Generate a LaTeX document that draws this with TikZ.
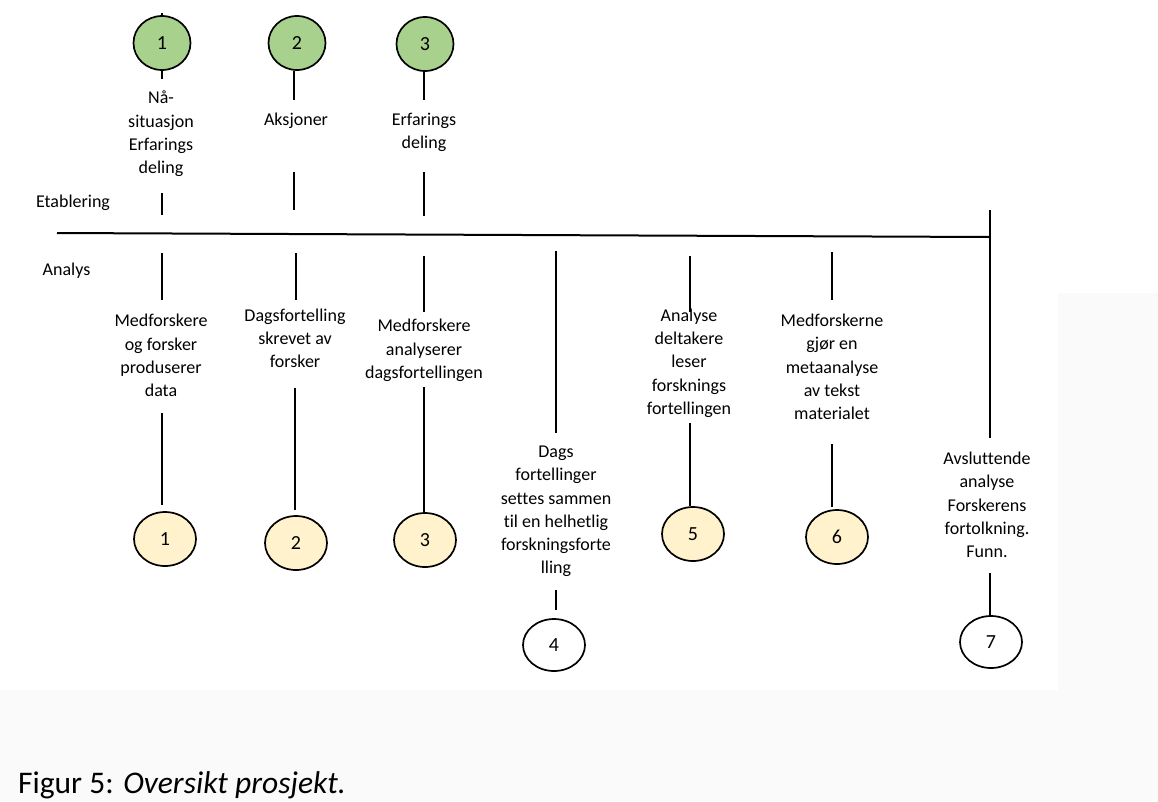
\documentclass[tikz,border=0pt]{standalone}
\usepackage{fontspec}
\setmainfont{Carlito}[Ligatures=NoCommon]
\usetikzlibrary{shapes.geometric}
\definecolor{stagegreen}{HTML}{A9D18E}
\definecolor{stageyellow}{HTML}{FFF2CC}
\definecolor{pagegrey}{HTML}{FAFAFA}
\begin{document}
\begin{tikzpicture}[x=1pt,y=-1pt,
  stage/.style={ellipse, draw=black, line width=1.7pt, inner sep=0pt,
    font=\fontsize{20}{22}\selectfont},
  est/.style={stage, fill=stagegreen, minimum width=57pt, minimum height=54pt},
  ana/.style={stage, fill=stageyellow, minimum width=62pt, minimum height=54pt},
  fin/.style={stage, fill=white, minimum width=62pt, minimum height=52pt},
  lbl/.style={align=center, inner sep=0pt, font=\fontsize{18}{23.3}\selectfont},
  rule/.style={line width=2.3pt}
]
% page background
\fill[pagegrey] (0,0) rectangle (1158,801);
\fill[white] (0,0) rectangle (1058,690);
\fill[white] (1058,0) rectangle (1158,293);
\useasboundingbox (0,0) rectangle (1158,801);

% phase labels
\node[lbl] (etab) at (73,203) {Etablering};
\node[lbl] (analys) at (66.5,271) {Analys};

% establishing phase: stages above the time line
\node[est] (g1) at (162,43) {1};
\node[est] (g2) at (297,43) {2};
\node[est] (g3) at (425,44) {3};
\node[lbl] (tg1) at (161,134) {Nå-\\situasjon\\Erfarings\\deling};
\node[lbl] (tg2) at (296,121) {Aksjoner};
\node[lbl] (tg3) at (424,132.5) {Erfarings\\deling};

% analysis phase: stages below the time line
\node[ana] (y1) at (165,539) {1};
\node[ana] (y2) at (296,543) {2};
\node[ana] (y3) at (425,540) {3};
\node[fin] (w4) at (554,645) {4};
\node[ana] (y5) at (693,534) {5};
\node[ana] (y6) at (837,537) {6};
\node[fin] (w7) at (991,642) {7};

\node[lbl] (t1) at (161,355.5) {Medforskere\\og forsker\\produserer\\data};
\node[lbl] (t2) at (295,338.5) {Dagsfortelling\\skrevet av\\forsker};
\node[lbl] (t3) at (424,350.5) {Medforskere\\analyserer\\dagsfortellingen};
\node[lbl] (t4) at (556,511.5) {Dags\\fortellinger\\settes sammen\\til en helhetlig\\forskningsforte\\lling};
\node[lbl] (t5) at (689,363) {Analyse\\deltakere\\leser\\forsknings\\fortellingen};
\node[lbl] (t6) at (832,367) {Medforskerne\\gjør en\\metaanalyse\\av tekst\\materialet};
\node[lbl] (t7) at (987,505) {Avsluttende\\analyse\\Forskerens\\fortolkning.\\Funn.};

% time line
\coordinate (tlstart) at (57,233);
\coordinate (tlend) at (990,237);
\coordinate (endtop) at (990,210);
\coordinate (endbot) at (990,438);
\draw[line width=2pt] (tlstart) -- (tlend);
\draw[rule] (endtop) -- (endbot);

% segment end points
\coordinate (a0) at (162,13);
\coordinate (a1) at (162,79);
\coordinate (a2) at (162,193);
\coordinate (a3) at (162,215);
\coordinate (b1) at (294,100);
\coordinate (b2) at (294,172);
\coordinate (b3) at (294,210);
\coordinate (c1) at (424,100);
\coordinate (c2) at (424,172);
\coordinate (c3) at (424,216);

\coordinate (p1) at (162,253);
\coordinate (p2) at (162,300);
\coordinate (p3) at (162,413);
\coordinate (q1) at (296,253);
\coordinate (q2) at (296,300);
\coordinate (q3) at (295,388);
\coordinate (r1) at (424,256);
\coordinate (r2) at (424,312);
\coordinate (r3) at (424,387);
\coordinate (s1) at (556,251);
\coordinate (s2) at (556,433);
\coordinate (s3) at (556,590);
\coordinate (s4) at (556,610);
\coordinate (u1) at (690,256);
\coordinate (u2) at (690,312);
\coordinate (u3) at (690,423);
\coordinate (v1) at (832,252);
\coordinate (v2) at (832,300);
\coordinate (v3) at (832,444);
\coordinate (z1) at (990,573);

% connectors above the time line
\draw[rule] (a0) -- (a0 |- g1.north);
\draw[rule] (g1.south) -- (a1);
\draw[rule] (a2) -- (a3);
\draw[rule] (g2.south -| b1) -- (b1);
\draw[rule] (b2) -- (b3);
\draw[rule] (g3.south -| c1) -- (c1);
\draw[rule] (c2) -- (c3);

% connectors below the time line
\draw[rule] (p1) -- (p2);
\draw[rule, shorten >=6pt] (p3) -- (p3 |- y1.north);
\draw[rule] (q1) -- (q2);
\draw[rule, shorten >=5pt] (q3) -- (q3 |- y2.north);
\draw[rule] (r1) -- (r2);
\draw[rule] (r3) -- (r3 |- y3.north);
\draw[rule] (s1) -- (s2);
\draw[rule] (s3) -- (s4);
\draw[rule] (u1) -- (u2);
\draw[rule] (u3) -- (u3 |- y5.north);
\draw[rule] (v1) -- (v2);
\draw[rule, shorten >=2pt] (v3) -- (v3 |- y6.north);
\draw[rule] (z1) -- (z1 |- w7.north);

% caption along the bottom edge
\node[anchor=base west, inner sep=0pt, font=\fontsize{31.5}{36}\selectfont] (cap)
  at (18,793) {Figur 5: \textit{Oversikt prosjekt.}};
\end{tikzpicture}
\end{document}
